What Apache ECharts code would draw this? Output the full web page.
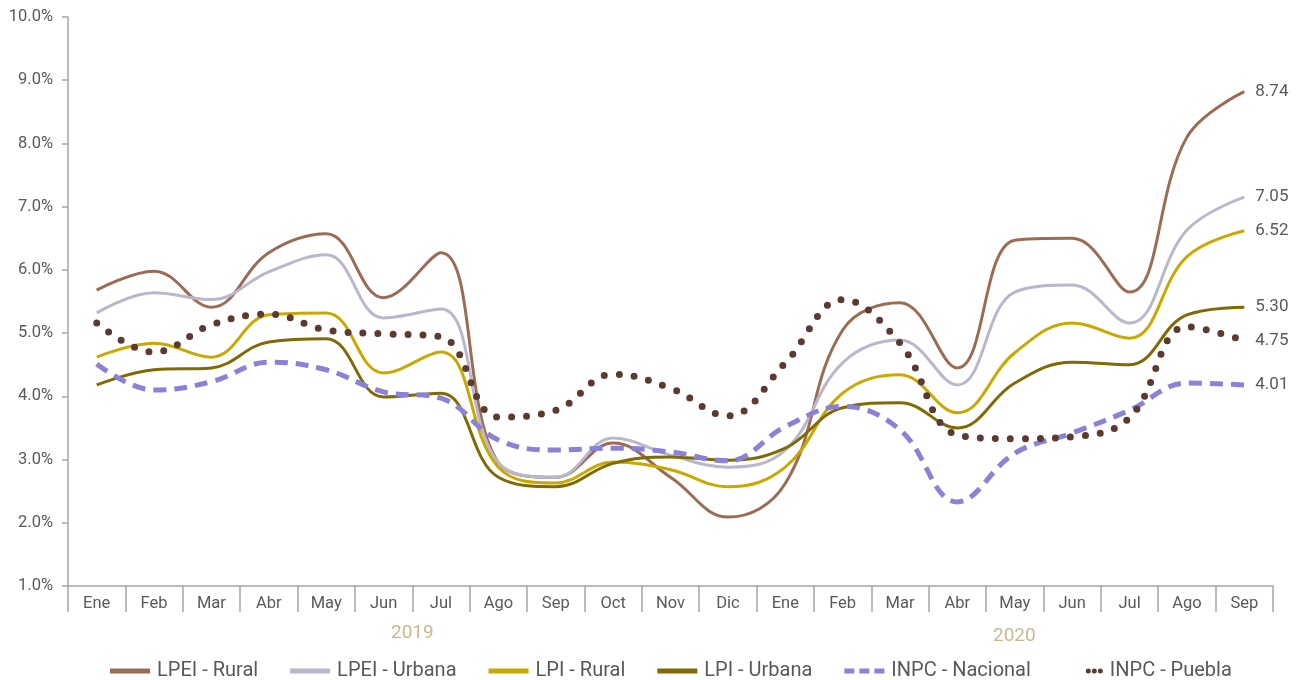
<!DOCTYPE html>
<html>
<head>
<meta charset="utf-8">
<script src="https://cdn.jsdelivr.net/npm/echarts@6/dist/echarts.min.js"></script>
<style>
  html, body { margin: 0; padding: 0; background: #fff; }
  #chart { width: 1303px; height: 680px; }
</style>
</head>
<body>
<div id="chart"></div>
<script>
const months = ["Ene", "Feb", "Mar", "Abr", "May", "Jun", "Jul", "Ago", "Sep", "Oct", "Nov", "Dic",
  "Ene", "Feb", "Mar", "Abr", "May", "Jun", "Jul", "Ago", "Sep"];

const lpeiRural = [5.68, 5.98, 5.41, 6.27, 6.57, 5.56, 6.27, 2.95, 2.72, 3.26, 2.72, 2.09, 2.62, 5.05, 5.48, 4.45, 6.47, 6.5, 5.65, 8.1, 8.82];
const lpeiUrbana = [5.32, 5.64, 5.53, 5.97, 6.24, 5.24, 5.38, 2.95, 2.72, 3.34, 3.07, 2.88, 3.15, 4.53, 4.89, 4.18, 5.65, 5.76, 5.16, 6.63, 7.15];
const lpiRural = [4.62, 4.84, 4.62, 5.29, 5.32, 4.37, 4.7, 2.88, 2.63, 2.96, 2.84, 2.57, 2.88, 4.05, 4.34, 3.74, 4.69, 5.16, 4.92, 6.21, 6.62];
const lpiUrbana = [4.18, 4.42, 4.45, 4.86, 4.91, 3.99, 4.05, 2.72, 2.57, 2.94, 3.04, 2.99, 3.18, 3.82, 3.9, 3.5, 4.21, 4.54, 4.5, 5.29, 5.41];
const inpcNacional = [4.51, 4.1, 4.23, 4.54, 4.42, 4.07, 3.97, 3.31, 3.15, 3.18, 3.12, 2.98, 3.52, 3.84, 3.47, 2.33, 3.1, 3.42, 3.78, 4.21, 4.18];
const inpcPuebla = [5.16, 4.7, 5.13, 5.3, 5.05, 4.99, 4.94, 3.67, 3.78, 4.35, 4.13, 3.69, 4.53, 5.53, 4.84, 3.39, 3.33, 3.36, 3.66, 5.1, 4.88];

// etiquetas al final de cada serie
const endLabels = {
  "LPEI - Rural": "8.74",
  "LPEI - Urbana": "7.05",
  "LPI - Rural": "6.52",
  "LPI - Urbana": "5.30",
  "INPC - Nacional": "4.01",
  "INPC - Puebla": "4.75",
};

const textColor = "#595959";
const axisColor = "#a6a6a6";

// iconos de la leyenda (caja 40x5)
const iconSolid = "path://M0,0H40V5H0Z";
const iconDash = "path://M0,0H10V5H0Z M15,0H25V5H15Z M30,0H40V5H30Z";
const iconDots = "path://M0,2.5L0.01,2.5Z " +
  "M23,2.5A2.5,2.5 0 1,1 28,2.5A2.5,2.5 0 1,1 23,2.5Z " +
  "M29,2.5A2.5,2.5 0 1,1 34,2.5A2.5,2.5 0 1,1 29,2.5Z " +
  "M35,2.5A2.5,2.5 0 1,1 40,2.5A2.5,2.5 0 1,1 35,2.5Z";

const myChart = echarts.init(document.getElementById("chart"));

function lineSeries(name, data, color, lineStyle) {
  return {
    name: name,
    type: "line",
    data: data,
    smooth: 0.4,
    symbol: "none",
    lineStyle: Object.assign({ color: color, width: 3 }, lineStyle || {}),
    itemStyle: { color: color },
    endLabel: {
      show: true,
      formatter: (p) => endLabels[p.seriesName],
      color: textColor,
      fontSize: 17,
      fontFamily: "Roboto",
      distance: 11,
    },
    emphasis: { disabled: true },
  };
}

const option = {
  animation: false,
  textStyle: { fontFamily: "Roboto" },
  grid: { left: 68, right: 30, top: 17, bottom: 94 },
  xAxis: {
    type: "category",
    data: months,
    boundaryGap: true,
    axisLine: { lineStyle: { color: axisColor, width: 1.5 } },
    axisTick: { show: true, length: 26, lineStyle: { color: axisColor, width: 1.5 } },
    axisLabel: { color: textColor, fontSize: 16.5, margin: 9, interval: 0 },
  },
  yAxis: {
    type: "value",
    min: 1,
    max: 10,
    interval: 1,
    splitLine: { show: false },
    axisLine: { show: true, lineStyle: { color: axisColor, width: 1.5 } },
    axisTick: { show: true, length: 6, lineStyle: { color: axisColor, width: 1.5 } },
    axisLabel: {
      color: textColor,
      fontSize: 16.5,
      margin: 15,
      formatter: (v) => v.toFixed(1) + "%",
    },
  },
  legend: {
    top: 656,
    left: 105,
    itemWidth: 44,
    itemHeight: 5,
    itemGap: 32,
    textStyle: { color: textColor, fontSize: 20, fontFamily: "Roboto" },
    data: [
      { name: "LPEI - Rural", icon: iconSolid },
      { name: "LPEI - Urbana", icon: iconSolid },
      { name: "LPI - Rural", icon: iconSolid },
      { name: "LPI - Urbana", icon: iconSolid },
      { name: "INPC - Nacional", icon: iconDash },
      { name: "INPC - Puebla", icon: iconDots },
    ],
  },
  graphic: [
    {
      type: "text",
      left: 391,
      top: 624,
      style: { text: "2019", fill: "#c8b98e", fontSize: 19, fontFamily: "Roboto" },
    },
    {
      type: "text",
      left: 993,
      top: 627,
      style: { text: "2020", fill: "#c8b98e", fontSize: 19, fontFamily: "Roboto" },
    },
  ],
  series: [
    lineSeries("LPEI - Rural", lpeiRural, "#9c6b53"),
    lineSeries("LPEI - Urbana", lpeiUrbana, "#b9b7cb"),
    lineSeries("LPI - Rural", lpiRural, "#c9a800"),
    lineSeries("LPI - Urbana", lpiUrbana, "#7f6a04"),
    lineSeries("INPC - Nacional", inpcNacional, "#8b81d6", { width: 5, type: [13, 8] }),
    lineSeries("INPC - Puebla", inpcPuebla, "#5b3a31", { width: 7, type: [0, 15], cap: "round" }),
  ],
};

myChart.setOption(option);
</script>
</body>
</html>
